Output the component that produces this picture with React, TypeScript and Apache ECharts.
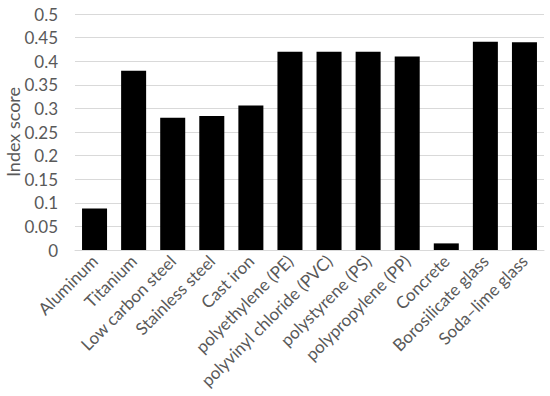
import React, { useEffect, useRef } from "react";
import * as echarts from "echarts";

const categories = [
  "Aluminum",
  "Titanium",
  "Low carbon steel",
  "Stainless steel",
  "Cast iron",
  "polyethylene (PE)",
  "polyvinyl chloride (PVC)",
  "polystyrene (PS)",
  "polypropylene (PP)",
  "Concrete",
  "Borosilicate glass",
  "Soda\u2013lime glass",
];
const values = [0.088, 0.38, 0.28, 0.284, 0.306, 0.42, 0.42, 0.42, 0.41, 0.014, 0.441, 0.44];
const yMin = 0;
const yMax = 0.5;
const yStep = 0.05;
const yTitle = "Index score";

export default function App() {
  const ref = useRef<HTMLDivElement>(null);
  useEffect(() => {
    if (!ref.current) return;
    const chart = echarts.init(ref.current, null, { renderer: "svg" });
    const font = "Lato, 'Open Sans', sans-serif";
    chart.setOption({
      animation: false,
      grid: { left: 75, right: 6, top: 14, bottom: 146, outerBoundsMode: "none", containLabel: false },
      graphic: [
        {
          type: "text",
          x: 13,
          y: 132,
          rotation: Math.PI / 2,
          style: {
            text: yTitle,
            fill: "#595959",
            fontSize: 18,
            fontFamily: font,
            textAlign: "center",
            textVerticalAlign: "middle",
          },
        },
      ],
      xAxis: {
        type: "category",
        data: categories,
        axisTick: { show: false },
        axisLine: { lineStyle: { color: "#d9d9d9", width: 1 } },
        axisLabel: {
          rotate: 45,
          interval: 0,
          color: "#595959",
          fontSize: 17,
          fontFamily: font,
          margin: 8,
        },
      },
      yAxis: {
        type: "value",
        min: yMin,
        max: yMax,
        interval: yStep,
        axisLine: { show: false },
        axisTick: { show: false },
        splitLine: { lineStyle: { color: "#d9d9d9", width: 1 } },
        axisLabel: {
          color: "#595959",
          fontSize: 17,
          fontFamily: font,
          margin: 17,
          formatter: (v: number) => String(Math.round(v * 100) / 100),
        },
      },
      series: [
        {
          type: "bar",
          data: values,
          barWidth: "64%",
          itemStyle: { color: "#000000" },
        },
      ],
    });
    return () => chart.dispose();
  }, []);
  return <div ref={ref} style={{ width: 550, height: 396, position: "absolute", left: 0, top: 0 }} />;
}
